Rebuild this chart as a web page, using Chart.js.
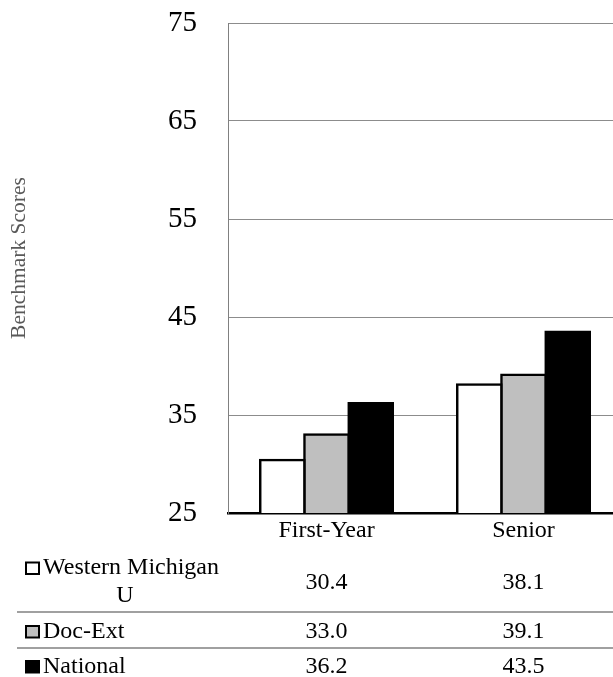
<!DOCTYPE html>
<html>
<head>
<meta charset="utf-8">
<script src="https://cdn.jsdelivr.net/npm/chart.js@4.4.1/dist/chart.umd.min.js"></script>
<style>
  html, body { margin: 0; padding: 0; background: #ffffff; overflow: hidden; width: 613px; height: 677px; }
  canvas { display: block; }
</style>
</head>
<body>
<canvas id="c" width="630" height="677" style="width:630px;height:677px"></canvas>
<script>
const categories = ["First-Year", "Senior"];
const seriesNames = ["Western Michigan U", "Doc-Ext", "National"];
const tableLabels = [["Western Michigan", "U"], ["Doc-Ext"], ["National"]];
const westernMichigan = [30.4, 38.1];
const docExt = [33.0, 39.1];
const national = [36.2, 43.5];
const yTicks = [25, 35, 45, 55, 65, 75];
const yTitle = "Benchmark Scores";

const seriesValues = [westernMichigan, docExt, national];
const fills = ["#ffffff", "#bfbfbf", "#000000"];
const FONT = "'Liberation Serif', 'Times New Roman', serif";

const tablePlugin = {
  id: "dataTable",
  afterDraw(chart) {
    const ctx = chart.ctx;
    const xs = chart.scales.x;
    ctx.save();
    // y title
    ctx.save();
    ctx.translate(19.5, 258);
    ctx.rotate(-Math.PI / 2);
    ctx.font = "21.5px " + FONT;
    ctx.fillStyle = "#595959";
    ctx.textAlign = "center";
    ctx.textBaseline = "middle";
    ctx.fillText(yTitle, 0, 0);
    ctx.restore();

    // separators
    ctx.strokeStyle = "#808080";
    ctx.lineWidth = 1.5;
    [612, 648].forEach(y => {
      ctx.beginPath();
      ctx.moveTo(17, y);
      ctx.lineTo(chart.width, y);
      ctx.stroke();
    });

    ctx.font = "24px " + FONT;
    ctx.fillStyle = "#000000";
    ctx.textBaseline = "alphabetic";
    const labelBase = [[574, 601.5], [637.5], [672.5]];
    const valueBase = [588.5, 637.5, 672.5];
    seriesNames.forEach((name, r) => {
      const base = labelBase[r][0];
      // key square
      ctx.fillStyle = fills[r];
      ctx.fillRect(26, base - 11.5, 13, 11.5);
      ctx.strokeStyle = "#000000";
      ctx.lineWidth = 2;
      ctx.strokeRect(26, base - 11.5, 13, 11.5);
      ctx.fillStyle = "#000000";
      const lines = tableLabels[r];
      ctx.textAlign = "left";
      ctx.fillText(lines[0], 43, base);
      if (lines.length > 1) {
        ctx.textAlign = "center";
        ctx.fillText(lines[1], 125, labelBase[r][1]);
      }
      ctx.textAlign = "center";
      seriesValues[r].forEach((v, i) => {
        ctx.fillText(v.toFixed(1), xs.getPixelForValue(i), valueBase[r]);
      });
    });
    ctx.restore();
  }
};

new Chart(document.getElementById("c"), {
  type: "bar",
  data: {
    labels: categories,
    datasets: seriesNames.map((name, i) => ({
      label: name,
      data: seriesValues[i],
      backgroundColor: fills[i],
      borderColor: "#000000",
      borderWidth: 2.5,
      borderSkipped: false,
      inflateAmount: 1.25,
      categoryPercentage: 0.673,
      barPercentage: 1.0
    }))
  },
  options: {
    responsive: false,
    devicePixelRatio: 1,
    animation: false,
    layout: { padding: { left: 0, top: 23, right: 8, bottom: 0 } },
    plugins: {
      legend: { display: false },
      tooltip: { enabled: false },
      title: { display: false }
    },
    scales: {
      x: {
        grid: { display: false, drawTicks: false },
        border: { display: true, color: "#000000", width: 2.5 },
        ticks: { color: "#000000", font: { family: FONT, size: 24 }, padding: 3, maxRotation: 0 },
        afterFit(s) { s.height = 164; }
      },
      y: {
        min: 25,
        max: 75,
        afterBuildTicks(s) { s.ticks = yTicks.map(v => ({ value: v })); },
        grid: { color: "#8c8c8c", lineWidth: 1, drawTicks: true, tickLength: 27, tickColor: "rgba(0,0,0,0)" },
        border: { display: true, color: "#808080", width: 1 },
        ticks: { color: "#000000", font: { family: FONT, size: 29 }, padding: 4 },
        afterFit(s) { s.width = 228; }
      }
    }
  },
  plugins: [tablePlugin]
});
</script>
</body>
</html>
